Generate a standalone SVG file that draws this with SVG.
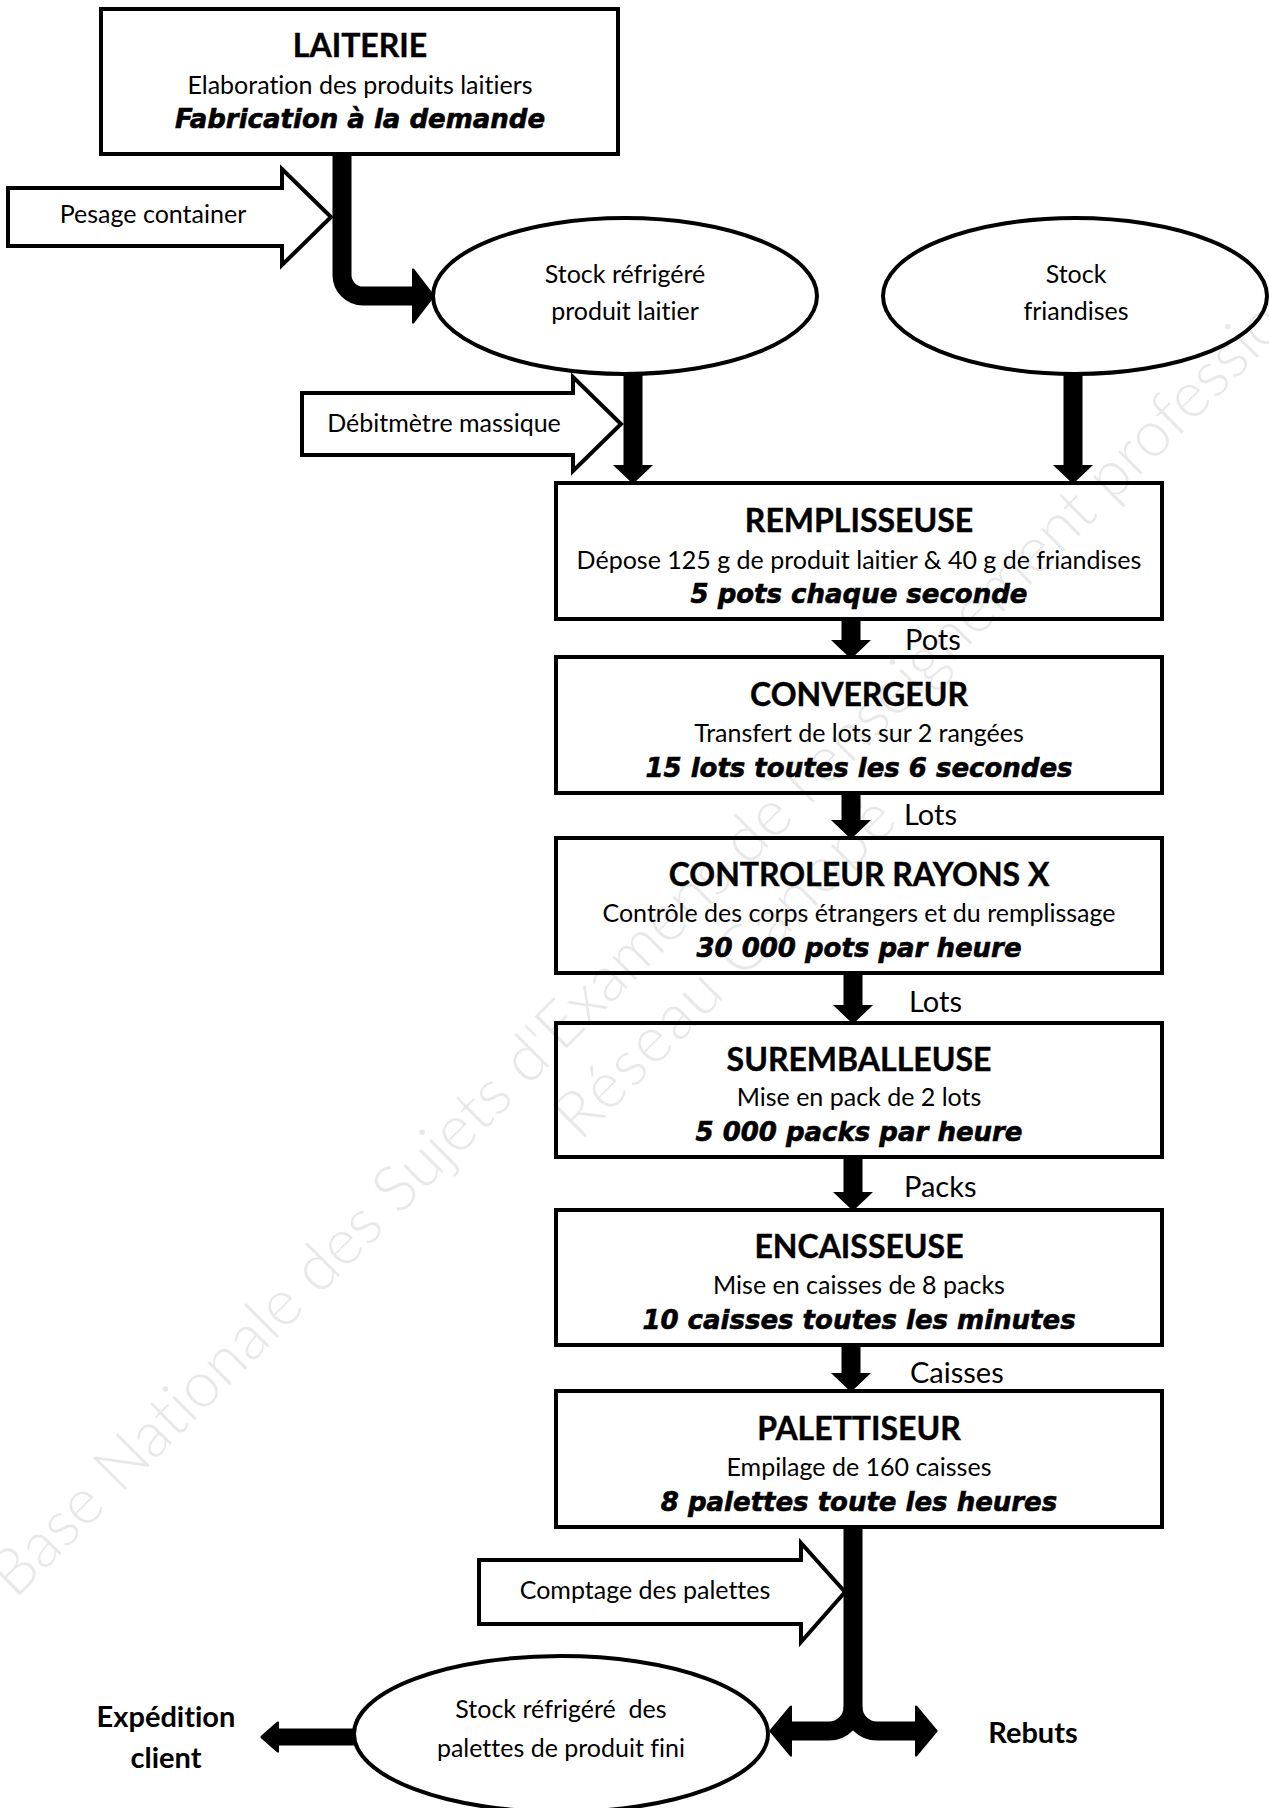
<svg xmlns="http://www.w3.org/2000/svg" width="1269" height="1808" viewBox="0 0 1269 1808">
<style>
.box{fill:#fff;stroke:#000;stroke-width:4}
.ell{fill:#fff;stroke:#000;stroke-width:4}
.blk{fill:#fff;stroke:#000;stroke-width:4;stroke-linejoin:miter}
.sh{fill:none;stroke:#000;stroke-width:19}
.sh2{fill:none;stroke:#000;stroke-width:17}
text{font-family:Lato,"Liberation Sans",sans-serif;fill:#000;text-anchor:middle;font-variant-ligatures:none}
.title{font-size:32px;font-weight:bold;stroke:#000;stroke-width:0.4}
.body{font-size:25px}
.ital{font-family:"DejaVu Sans",sans-serif;font-size:26px;font-weight:bold;font-style:italic;stroke:#000;stroke-width:0.6}
.lbl{font-size:29px;text-anchor:start}
.blbl{font-size:29px;font-weight:bold}
.wm{font-family:Lato,sans-serif;font-weight:300;font-size:64px;fill:#000;fill-opacity:0.09;text-anchor:start}
</style>
<defs>
<marker id="ah" markerUnits="userSpaceOnUse" viewBox="0 0 19 40" markerWidth="19" markerHeight="40" refX="0" refY="20" orient="auto">
<path d="M0,1 L18,20 L0,39 z" fill="#000" stroke="#000" stroke-width="1.5" stroke-linejoin="round"/>
</marker>
<marker id="ahBig" markerUnits="userSpaceOnUse" viewBox="0 0 23 56" markerWidth="23" markerHeight="56" refX="0" refY="28" orient="auto">
<path d="M1,2 L21,28 L1,54 z" fill="#000" stroke="#000" stroke-width="3" stroke-linejoin="round"/>
</marker>
<marker id="ahMid" markerUnits="userSpaceOnUse" viewBox="0 0 23 52" markerWidth="23" markerHeight="52" refX="0" refY="26" orient="auto">
<path d="M1,2 L21,26 L1,50 z" fill="#000" stroke="#000" stroke-width="3" stroke-linejoin="round"/>
</marker>
<marker id="ahSm" markerUnits="userSpaceOnUse" viewBox="0 0 19 32" markerWidth="19" markerHeight="32" refX="0" refY="16" orient="auto">
<path d="M1,2 L17,16 L1,30 z" fill="#000" stroke="#000" stroke-width="3" stroke-linejoin="round"/>
</marker>
</defs>

<g id="connectors">
<path class="sh" d="M342,153 V275 A21,21 0 0 0 363,296 H412" marker-end="url(#ahBig)"/>
<path class="sh" d="M633,374 V465" marker-end="url(#ah)"/>
<path class="sh" d="M1073,374 V465" marker-end="url(#ah)"/>
<path class="sh" d="M851,619 V640" marker-end="url(#ah)"/>
<path class="sh" d="M851,793 V820" marker-end="url(#ah)"/>
<path class="sh" d="M853,973 V1005" marker-end="url(#ah)"/>
<path class="sh" d="M853,1157 V1192" marker-end="url(#ah)"/>
<path class="sh" d="M851,1345 V1373" marker-end="url(#ah)"/>
<path class="sh" d="M853,1527 V1707 A24,24 0 0 1 829,1731 H792" marker-end="url(#ahMid)"/>
<path class="sh" d="M853,1707 A24,24 0 0 0 877,1731 H915" marker-end="url(#ahMid)"/>
<path class="sh2" d="M355,1737 H279" marker-end="url(#ahSm)"/>
<text class="lbl" x="905" y="650">Pots</text>
<text class="lbl" x="904" y="825">Lots</text>
<text class="lbl" x="909" y="1012">Lots</text>
<text class="lbl" x="904" y="1197">Packs</text>
<text class="lbl" x="910" y="1383">Caisses</text>
</g>

<g id="laiterie">
<rect class="box" x="101" y="9" width="517" height="145"/>
<text class="title" x="360" y="57">LAITERIE</text>
<text class="body" x="360" y="94">Elaboration des produits laitiers</text>
<text class="ital" x="360" y="128">Fabrication à la demande</text>
</g>

<g id="pesage">
<polygon class="blk" points="8,188 282,188 282,169 331,217 282,265 282,246 8,246"/>
<text class="body" x="153" y="223">Pesage container</text>
</g>

<g id="stock-laitier">
<ellipse class="ell" cx="625" cy="296" rx="192" ry="78"/>
<text class="body" x="625" y="283">Stock réfrigéré</text>
<text class="body" x="625" y="320">produit laitier</text>
</g>

<g id="stock-friandises">
<ellipse class="ell" cx="1075" cy="296" rx="192" ry="78"/>
<text class="body" x="1076" y="283">Stock</text>
<text class="body" x="1076" y="320">friandises</text>
</g>

<g id="debitmetre">
<polygon class="blk" points="302,393 573,393 573,377 621,424 573,471 573,455 302,455"/>
<text class="body" x="444" y="432">Débitmètre massique</text>
</g>

<g id="remplisseuse">
<rect class="box" x="556" y="483" width="606" height="136"/>
<text class="title" x="859" y="532">REMPLISSEUSE</text>
<text class="body" x="859" y="569">Dépose 125 g de produit laitier &amp; 40 g de friandises</text>
<text class="ital" x="859" y="603">5 pots chaque seconde</text>
</g>

<g id="convergeur">
<rect class="box" x="556" y="657" width="606" height="136"/>
<text class="title" x="859" y="706">CONVERGEUR</text>
<text class="body" x="859" y="742">Transfert de lots sur 2 rangées</text>
<text class="ital" x="859" y="777">15 lots toutes les 6 secondes</text>
</g>

<g id="controleur">
<rect class="box" x="556" y="838" width="606" height="135"/>
<text class="title" x="859" y="886">CONTROLEUR RAYONS X</text>
<text class="body" x="859" y="922">Contrôle des corps étrangers et du remplissage</text>
<text class="ital" x="859" y="957">30 000 pots par heure</text>
</g>

<g id="suremballeuse">
<rect class="box" x="556" y="1023" width="606" height="134"/>
<text class="title" x="859" y="1071">SUREMBALLEUSE</text>
<text class="body" x="859" y="1106">Mise en pack de 2 lots</text>
<text class="ital" x="859" y="1141">5 000 packs par heure</text>
</g>

<g id="encaisseuse">
<rect class="box" x="556" y="1210" width="606" height="135"/>
<text class="title" x="859" y="1258">ENCAISSEUSE</text>
<text class="body" x="859" y="1294">Mise en caisses de 8 packs</text>
<text class="ital" x="859" y="1329">10 caisses toutes les minutes</text>
</g>

<g id="palettiseur">
<rect class="box" x="556" y="1391" width="606" height="136"/>
<text class="title" x="859" y="1440">PALETTISEUR</text>
<text class="body" x="859" y="1476">Empilage de 160 caisses</text>
<text class="ital" x="859" y="1511">8 palettes toute les heures</text>
</g>

<g id="comptage">
<polygon class="blk" points="479,1560 801,1560 801,1543 845,1592 801,1642 801,1624 479,1624"/>
<text class="body" x="645" y="1599">Comptage des palettes</text>
</g>

<g id="stock-fini">
<ellipse class="ell" cx="561" cy="1734" rx="207" ry="78"/>
<text class="body" x="561" y="1718" xml:space="preserve">Stock réfrigéré  des</text>
<text class="body" x="561" y="1757">palettes de produit fini</text>
</g>

<g id="expedition">
<text class="blbl" x="166" y="1727">Expédition</text>
<text class="blbl" x="166" y="1768">client</text>
</g>

<g id="rebuts">
<text class="blbl" x="1033" y="1743">Rebuts</text>
</g>

<g id="watermark">
<text class="wm" transform="translate(15,1600) rotate(-45)">Base Nationale des Sujets d'Examens de l'enseignement professionnel</text>
<text class="wm" transform="translate(580,1142) rotate(-45)" letter-spacing="2">Réseau Canopé</text>
</g>
</svg>
